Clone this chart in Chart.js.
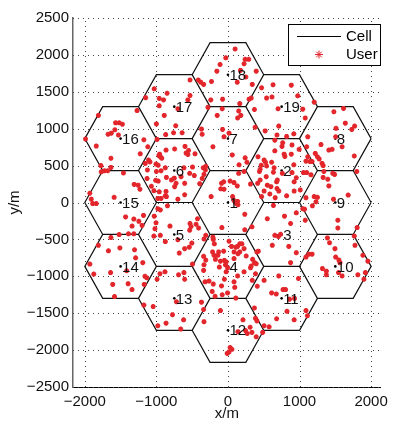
<!DOCTYPE html>
<html>
<head>
<meta charset="utf-8">
<script src="https://cdn.jsdelivr.net/npm/chart.js@4/dist/chart.umd.min.js"></script>
<style>
html,body{margin:0;padding:0;background:#fff;}
</style>
</head>
<body>
<canvas id="c" width="394" height="423"></canvas>
<script>
// cell centres, numbered 1..19
const cellX = [0, 750, 750, 0, -750, -750, 0, 1500, 1500, 1500, 750, 0, -750, -1500, -1500, -1500, -750, 0, 750];
const cellY = [0, 433, -433, -866, -433, 433, 866, 866, 0, -866, -1299, -1732, -1299, -866, 0, 866, 1299, 1732, 1299];
const cellRadius = 500;

const xTicks = [-2000, -1000, 0, 1000, 2000];
const yTicks = [-2500, -2000, -1500, -1000, -500, 0, 500, 1000, 1500, 2000, 2500];

// user positions (m)
const userPts = [
  [-30,1960],[-110,1870],[-155,1780],[-230,1640],[100,2080],[240,1940],[290,1940],[225,1880],[175,1790],[395,1780],[130,1630],[340,1600],[250,1700],[-75,1400],
  [-530,1660],[-415,1660],[-380,1630],[-340,1600],[-1030,1540],[-850,1480],[-960,1410],[-900,1390],[-1150,1420],[-1270,1245],[-960,1310],[-890,1180],[-530,1450],[-560,1390],[-700,1270],[-240,1390],[-280,1290],[-80,1270],[-150,1180],
  [180,1180],[135,1145],[165,1340],[150,1240],
  [-1810,1180],[-1570,1080],[-1520,1080],[-1475,1060],[-1580,985],[-1630,940],[-1675,925],[-1530,915],[-1990,860],[-1840,765],[-1635,600],[-1775,500],[-1635,475],[-1460,400],[-1770,415],[-1725,430],[-1680,430],
  [-1000,1065],[-730,1040],[-870,920],[-760,945],[-640,945],[-990,855],[-1175,850],[-1120,755],[-1225,660],[-955,655],[-965,635],[-940,615],[-925,600],[-865,710],[-745,725],[-600,760],[-550,705],[-585,670],[-560,650],[-460,660],[-1110,575],[-1155,530],[-1090,550],[-1005,520],[-975,505],[-1125,440],[-1000,420],[-935,430],[-875,470],[-615,470],[-495,480],[-470,365],[-1130,325],[-975,290],[-1010,300],[-860,340],[-790,305],[-750,330],[-725,260],[-655,350],[-605,260],[-535,395],[-1070,220],[-1035,160],[-960,145],[-865,150],[-745,215],[-605,105],[-875,90],[-860,80],[-700,45],[-980,55],[-935,55],
  [-345,470],[-315,440],[-335,380],[-360,325],[-310,490],[-395,255],
  [-210,755],[-75,990],[-55,890],[-360,925],[-370,995],[15,940],[155,510],[225,420],[150,395],
  [-1310,245],[-1255,235],[-1230,180],[-1890,-15],[-1840,-15],[-1910,45],[-1590,70],[-1930,125],[-1430,-195],[-1315,-225],[-1245,-255],[-1200,-310],[-1340,-320],[-1180,-175],
  [-1390,-425],[-1315,-425],[-1635,-475],[-1520,-435],[-1810,-580],[-1510,-615],[-1670,-655],[-1305,-640],[-1930,-835],[-1190,-815],[-1290,-750],[-1640,-950],[-1875,-970],[-1395,-1100],[-1610,-1110],[-1160,-1000],[-1135,-1020],[-1415,-925],[-1170,-1110],[-1585,-1275],[-1340,-1180],
  [-980,-85],[-945,-100],[-845,-45],[-1030,-185],[-1005,-275],[-1020,-355],[-945,-445],[-1035,-455],[-875,-530],[-810,-320],[-530,-285],[-515,-325],[-445,-295],[-425,-220],[-410,-345],[-535,-375],[-700,-505],[-605,-625],[-680,-685],[-495,-835],[-505,-550],[-310,-445],[-335,-495],[-540,-605],
  [-205,-500],[-190,-560],[-215,-670],[-195,-715],[-130,-670],[-60,-660],[-340,-730],[-310,-780],[-335,-845],[-340,-920],[-175,-770],[-105,-795],[-50,-785],[-35,-845],[-50,-1040],[-205,-1105],[-265,-1065],[-320,-1075],[15,-525],[165,-560],[195,-560],[135,-595],[110,-605],[225,-625],[165,-670],[140,-695],[255,-725],[50,-595],[345,-770],[370,-815],[395,-830],[325,-860],[-25,-805],[-5,-885],[225,-940],[135,-995],[315,-885],[385,-965],[-210,-470],[-140,-715],[-120,-875],[-25,-940],[85,-760],[85,-670],[340,-1055],[85,-1075],[-220,-1205],[-180,-1270],[-90,-1130],[-80,-1250],[405,-670],
  [-950,-965],[-880,-940],[-690,-980],[-615,-950],[-990,-1040],[-605,-1040],[-1175,-1390],[-1045,-1410],[-720,-1345],[-980,-1670],[-865,-1635],[-775,-1520],[-620,-1590],[-660,-1715],[-370,-1350],[-340,-1450],[-335,-1615],[-105,-1465],
  [-10,-2045],[30,-1965],[55,-1990],[15,-2025],[210,-1590],[385,-1570],[405,-1605],[310,-1690],[245,-1735],[270,-1775],[335,-1760],[140,-1750],[395,-1820],[485,-1760],[505,-1670],[575,-1685],[370,-1430],
  [95,-1150],[-5,-1225],[110,-1295],[410,-1135],[610,-1225],[675,-1240],[770,-1180],[805,-1180],[860,-1310],[930,-1300],[825,-1475],[680,-1575],[925,-1590],[1090,-1465],[1110,-1535],
  [120,-15],[140,-30],[235,-160],[635,-40],[550,-220],[790,-185],[955,-140],[1045,-85],[1070,-90],[1180,-45],[1080,-240],[875,-285],[335,-330],[235,-370],[655,-445],[705,-460],[735,-430],[620,-580],[850,-595],[425,-660],[955,-680],[1130,-700],[1175,-700],[1090,-740],[875,-815],[710,-995],[505,-1055],[985,-1030],[-85,-340],
  [1535,-240],[1535,-345],[1805,-340],[1765,-455],[1390,-480],[1420,-545],[1495,-625],[1885,-715],[1955,-795],[1550,-780],[1565,-815],[1320,-895],[1375,-930],[1375,-980],[1545,-950],[1595,-995],[1815,-980],[1920,-950],[1900,-1040],[1775,-580],[1505,-740],
  [1090,65],[1250,70],[1475,45],[1680,100],[1410,225],[1205,80],[1230,10],[1800,420],
  [380,1020],[520,970],[710,1035],[685,915],[820,895],[920,930],[655,845],[1115,890],[765,810],[755,760],[895,780],[995,720],[1100,755],[655,700],[785,655],[795,625],[885,655],[420,620],[240,605],[265,545],[60,645],[505,575],[525,545],[540,495],[465,505],[610,545],[450,450],[440,420],[450,305],[645,470],[635,410],[920,510],[760,395],[895,405],[955,335],[925,280],[690,305],[680,280],[535,350],[550,235],[600,215],[415,260],[315,250],[505,155],[470,80],[585,115],[685,190],[710,155],[660,65],[820,90],[925,155],[1010,170],[135,15],[85,25],[85,270],[65,80],[-235,80],[-90,260],[-60,280],[-55,180],[-100,185],[30,290],[130,225],
  [1090,560],[1145,555],[1315,530],[1330,500],[1250,620],[1275,590],[1220,665],[1175,555],[1300,785],[1410,710],[1455,720],[1510,1005],[1640,1075],[1770,1035],[1765,630],[1055,405],[1100,405],[1160,375],[1340,420],[1330,340],[1395,315],[1465,395],[1490,380],[1480,1230],[1615,1275],[1730,990],[1505,890],[1595,755],[1115,620],
  [470,1555],[630,1595],[885,1590],[325,1415],[295,1400],[540,1415],[615,1430],[975,1445],[700,1270],[370,1260],[1205,1360],[1045,1265],[1080,1145]
];

const FONT = "'Liberation Sans', Arial, Helvetica, sans-serif";
const RED = '#e3262b';

function fmt(v){ return v < 0 ? '\u2212' + Math.abs(v) : String(v); }

// hexagon outlines, one closed ring per cell, separated by gaps
const hexPts = [];
cellX.forEach((cx, i) => {
  for (let k = 0; k <= 6; k++) {
    const a = k * Math.PI / 3;
    hexPts.push({ x: cx + cellRadius * Math.cos(a), y: cellY[i] + cellRadius * Math.sin(a) });
  }
  hexPts.push({ x: cx, y: null });
});

const dotGrid = {
  id: 'dotGrid',
  beforeDatasetsDraw(chart){
    const {ctx, chartArea: a, scales: {x, y}} = chart;
    ctx.save();
    ctx.strokeStyle = '#444'; ctx.lineWidth = 1; ctx.setLineDash([1, 4]);
    xTicks.forEach(v => {
      const px = Math.round(x.getPixelForValue(v)) + 0.5;
      ctx.beginPath(); ctx.moveTo(px, a.bottom); ctx.lineTo(px, a.top); ctx.stroke();
    });
    yTicks.forEach(v => {
      const py = Math.round(y.getPixelForValue(v)) + 0.5;
      ctx.beginPath(); ctx.moveTo(a.left, py); ctx.lineTo(a.right, py); ctx.stroke();
    });
    ctx.restore();
  }
};

const cellLabels = {
  id: 'cellLabels',
  afterDatasetsDraw(chart){
    const {ctx, scales: {x, y}} = chart;
    ctx.save();
    ctx.fillStyle = '#111';
    ctx.font = '15px ' + FONT;
    ctx.textBaseline = 'middle';
    cellX.forEach((cx, i) => {
      ctx.fillText(String(i + 1), x.getPixelForValue(cx) + 1.5, y.getPixelForValue(cellY[i]) + 1);
    });
    ctx.restore();
  }
};

function drawStar(ctx, cx, cy, r){
  ctx.beginPath();
  for (let k = 0; k < 4; k++) {
    const a = k * Math.PI / 4;
    ctx.moveTo(cx - r * Math.cos(a), cy - r * Math.sin(a));
    ctx.lineTo(cx + r * Math.cos(a), cy + r * Math.sin(a));
  }
  ctx.stroke();
}

const legendBox = {
  id: 'legendBox',
  afterDraw(chart){
    const ctx = chart.ctx;
    const ds = chart.data.datasets;
    ctx.save();
    ctx.fillStyle = '#fff';
    ctx.fillRect(288, 24, 93, 42);
    ctx.strokeStyle = '#000'; ctx.lineWidth = 1;
    ctx.strokeRect(288.5, 24.5, 92, 41);
    ctx.beginPath(); ctx.moveTo(297, 36.5); ctx.lineTo(341, 36.5); ctx.stroke();
    ctx.strokeStyle = RED; ctx.lineWidth = 1;
    drawStar(ctx, 319, 54.5, 4);
    ctx.fillStyle = '#000';
    ctx.font = '15px ' + FONT;
    ctx.textBaseline = 'middle';
    ctx.fillText(ds[2].label, 346, 37);
    ctx.fillText(ds[0].label, 346, 55);
    ctx.restore();
  }
};

new Chart(document.getElementById('c'), {
  type: 'scatter',
  data: {
    datasets: [
      {
        label: 'User',
        data: userPts.map(p => ({ x: p[0], y: p[1] })),
        pointStyle: 'star',
        pointRadius: 2.5,
        borderWidth: 1.6,
        borderColor: RED,
        backgroundColor: RED
      },
      {
        label: 'centre',
        data: cellX.map((cx, i) => ({ x: cx, y: cellY[i] })),
        pointRadius: 1.3,
        borderWidth: 0,
        backgroundColor: '#000'
      },
      {
        label: 'Cell',
        data: hexPts,
        showLine: true,
        spanGaps: false,
        pointRadius: 0,
        borderColor: '#111',
        borderWidth: 1.2,
        tension: 0
      }
    ]
  },
  options: {
    responsive: false,
    animation: false,
    devicePixelRatio: 1,
    layout: { padding: { top: 18, right: 7, left: 0, bottom: 0 } },
    plugins: { legend: { display: false }, tooltip: { enabled: false } },
    scales: {
      x: {
        type: 'linear', min: -2165, max: 2135,
        afterBuildTicks: s => { s.ticks = xTicks.map(v => ({ value: v })); },
        afterFit: s => { s.height = 36; },
        grid: { display: false, drawTicks: false, tickLength: 0 },
        border: { display: true, color: '#000', width: 1 },
        ticks: { color: '#111', padding: 6, font: { size: 15, family: FONT }, callback: v => fmt(v), maxRotation: 0 },
        title: { display: true, text: 'x/m', color: '#111', padding: 0, font: { size: 15, family: FONT } }
      },
      y: {
        type: 'linear', min: -2500, max: 2500,
        afterBuildTicks: s => { s.ticks = yTicks.map(v => ({ value: v })); },
        afterFit: s => { s.width = 73; },
        grid: { display: false, drawTicks: false, tickLength: 0 },
        border: { display: true, color: '#666', width: 1.5 },
        ticks: { color: '#111', padding: 4, font: { size: 15, family: FONT }, callback: v => fmt(v) },
        title: { display: true, text: 'y/m', color: '#111', padding: { top: 6, bottom: 0 }, font: { size: 15, family: FONT } }
      }
    }
  },
  plugins: [dotGrid, cellLabels, legendBox]
});
</script>
</body>
</html>
